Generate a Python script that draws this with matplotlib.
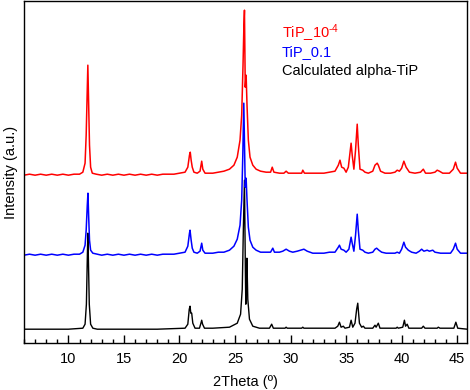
import numpy as np
import matplotlib
matplotlib.use("Agg")
import matplotlib.pyplot as plt
from matplotlib.ticker import MultipleLocator

plt.rcParams["font.family"] = ["Liberation Sans", "DejaVu Sans"]
plt.rcParams["mathtext.fontset"] = "custom"
plt.rcParams["mathtext.rm"] = "Liberation Sans"
plt.rcParams["mathtext.it"] = "Liberation Sans"

# Pattern points (2theta, intensity above own baseline)
red_x = [6.0, 6.5, 7.0, 7.5, 8.0, 8.5, 9.0, 9.5, 10.0, 10.5, 11.0, 11.3, 11.5, 11.6, 11.68, 11.75, 11.82,
         11.9, 12.0, 12.15, 12.5, 13.0, 13.5, 14.0, 14.5, 15.0, 15.5, 16.0, 16.5, 17.0, 17.5, 18.0, 18.5,
         19.0, 19.5, 20.0, 20.5, 20.75, 20.9, 20.97, 21.05, 21.15, 21.3, 21.6, 21.85, 22.0, 22.1, 22.3,
         22.7, 23.0, 23.5, 24.0, 24.5, 24.9, 25.2, 25.45, 25.6, 25.72, 25.8, 25.85, 25.92, 26.0, 26.08,
         26.2, 26.35, 26.6, 26.9, 27.3, 27.8, 28.2, 28.35, 28.5, 29.0, 29.4, 29.6, 29.8, 30.5, 31.0, 31.1,
         31.25, 32.0, 32.5, 33.0, 33.5, 34.0, 34.3, 34.45, 34.6, 34.8, 35.0, 35.2, 35.45, 35.55, 35.7,
         35.85, 36.0, 36.1, 36.25, 36.5, 36.7, 37.0, 37.4, 37.6, 37.8, 37.9, 38.1, 38.5, 39.0, 39.4, 39.6,
         39.8, 40.0, 40.2, 40.4, 40.7, 41.2, 41.7, 41.95, 42.15, 42.6, 43.0, 43.2, 43.4, 43.7, 44.3, 44.65,
         44.85, 45.0, 45.3, 45.9]
red_y = [0, 1, 0, 1, 0, 1, 0, 1, 0, 1, 1, 3, 12, 40, 80, 110, 75,
         30, 8, 2, 1, 0, 1, 0, 1, 0, 1, 0, 1, 0, 1, 0, 1,
         1, 1, 2, 3, 8, 20, 23, 15, 8, 3, 2, 4, 14, 6, 2,
         2, 2, 3, 4, 6, 10, 18, 35, 60, 110, 150, 165, 88, 100, 70,
         35, 18, 10, 6, 4, 3, 3, 8, 3, 2, 2, 4, 2, 2, 2, 5,
         2, 2, 2, 2, 3, 4, 10, 15, 8, 7, 3, 8, 32, 20, 6,
         25, 51, 30, 6, 5, 3, 2, 4, 10, 12, 10, 4, 2, 2, 3, 5,
         4, 7, 14, 8, 3, 2, 3, 6, 2, 2, 3, 5, 4, 2, 2, 6,
         13, 7, 2, 2]

blue_x = [6.0, 6.5, 7.0, 7.5, 8.0, 8.5, 9.0, 9.5, 10.0, 10.5, 11.0, 11.3, 11.5, 11.6, 11.7, 11.76, 11.82,
          11.9, 12.0, 12.2, 12.6, 13.0, 13.5, 14.0, 14.5, 15.0, 15.5, 16.0, 16.5, 17.0, 17.5, 18.0, 18.5,
          19.0, 19.5, 20.0, 20.5, 20.75, 20.9, 20.95, 21.05, 21.15, 21.3, 21.6, 21.85, 22.0, 22.1, 22.3,
          23.0, 23.5, 24.0, 24.5, 24.9, 25.2, 25.45, 25.6, 25.7, 25.79, 25.85, 25.92, 26.0, 26.08, 26.2,
          26.35, 26.6, 26.9, 27.3, 27.8, 28.2, 28.4, 28.55, 29.0, 29.3, 29.6, 29.9, 30.2, 30.6, 30.9, 31.2,
          31.5, 32.0, 32.5, 33.0, 33.5, 34.0, 34.3, 34.4, 34.55, 34.8, 35.0, 35.25, 35.45, 35.55, 35.7,
          35.85, 36.0, 36.1, 36.25, 36.5, 36.7, 37.0, 37.4, 37.6, 37.75, 37.95, 38.2, 38.6, 39.0, 39.4,
          39.6, 39.8, 40.0, 40.2, 40.35, 40.6, 40.9, 41.3, 41.6, 41.8, 42.0, 42.3, 42.5, 42.8, 43.0, 43.5,
          44.0, 44.4, 44.65, 44.85, 45.0, 45.3, 45.9]
blue_y = [0, 1, 0, 1, 0, 1, 0, 1, 0, 1, 1, 3, 10, 25, 50, 62, 40,
          15, 5, 2, 1, 0, 1, 0, 1, 0, 1, 0, 1, 0, 1, 0, 1,
          1, 1, 2, 3, 9, 22, 25, 15, 7, 3, 2, 4, 12, 5, 2,
          2, 3, 3, 5, 9, 16, 30, 55, 100, 152, 110, 68, 77, 55, 28,
          15, 8, 5, 3, 3, 3, 7, 3, 3, 4, 6, 4, 3, 4, 5, 6,
          4, 2, 2, 2, 3, 3, 8, 10, 6, 5, 3, 6, 18, 12, 4,
          20, 41, 25, 6, 5, 3, 2, 3, 6, 7, 5, 3, 2, 2, 2,
          3, 2, 6, 13, 8, 5, 3, 2, 4, 6, 4, 5, 4, 5, 3, 2,
          2, 2, 6, 12, 6, 2, 2]

black_x = [6.0, 10.0, 11.3, 11.5, 11.62, 11.7, 11.75, 11.8, 11.88, 12.0, 12.2, 12.6, 18.0, 20.5, 20.75,
           20.88, 20.95, 21.02, 21.1, 21.2, 21.4, 21.8, 21.93, 22.0, 22.08, 22.25, 23.0, 24.5, 25.2, 25.5,
           25.65, 25.75, 25.85, 25.93, 25.97, 26.02, 26.07, 26.15, 26.3, 26.6, 27.2, 28.1, 28.3, 28.45,
           29.5, 29.6, 29.7, 31.0, 31.1, 31.2, 34.0, 34.25, 34.4, 34.55, 34.75, 34.9, 35.3, 35.45, 35.6,
           35.8, 35.95, 36.05, 36.2, 36.4, 36.55, 36.7, 37.4, 37.6, 37.7, 37.9, 38.05, 39.5, 39.6, 39.7,
           40.1, 40.25, 40.35, 40.5, 40.65, 41.8, 41.95, 42.1, 43.2, 43.3, 43.45, 44.7, 44.88, 45.05, 45.9]
black_y = [0, 0, 1, 5, 25, 70, 96, 70, 25, 5, 1, 0, 0, 1, 5,
           20, 23, 16, 16, 6, 1, 1, 6, 9, 5, 1, 1, 2, 6, 15,
           40, 100, 149, 60, 25, 40, 71, 30, 10, 3, 1, 1, 5, 1,
           1, 2, 1, 1, 2, 1, 1, 3, 7, 2, 3, 1, 2, 9, 2,
           6, 20, 26, 6, 2, 3, 1, 1, 4, 2, 6, 1, 1, 2, 1,
           2, 9, 3, 5, 1, 1, 3, 1, 1, 2, 1, 1, 7, 1, 0]

offsets = {"red": 168, "blue": 88, "black": 14}

fig = plt.figure(figsize=(4.7, 3.9), dpi=100)
ax = fig.add_axes([0.051, 0.12, 0.943, 0.877])

ax.plot(black_x, np.array(black_y) + offsets["black"], color="black", lw=1.0)
ax.plot(blue_x, np.array(blue_y) + offsets["blue"], color="#0000ff", lw=1.1)
ax.plot(red_x, np.array(red_y) + offsets["red"], color="#ff0000", lw=1.1)

ax.set_xlim(6, 45.9)
ax.set_ylim(0, 342)
ax.xaxis.set_major_locator(MultipleLocator(5))
ax.xaxis.set_minor_locator(MultipleLocator(1))
ax.tick_params(axis="x", which="major", direction="in", length=6, width=1, labelsize=10.5, pad=6)
ax.tick_params(axis="x", which="minor", direction="in", length=3, width=1)
ax.set_yticks([])
for s in ax.spines.values():
    s.set_linewidth(1.0)

ax.set_xlabel("2Theta (º)", fontsize=10.5, labelpad=7)
ax.set_ylabel("Intensity (a.u.)", fontsize=10.5, labelpad=4)

# legend as coloured text
ax.text(0.582, 0.905, "TiP_10$^{\u20104}$", color="#ff0000", fontsize=10.5, transform=ax.transAxes, va="center")
ax.text(0.582, 0.85, "TiP_0.1", color="#0000ff", fontsize=10.5, transform=ax.transAxes, va="center")
ax.text(0.582, 0.795, "Calculated alpha-TiP", color="black", fontsize=10.5, transform=ax.transAxes, va="center")

fig.savefig("out.png", dpi=100)
